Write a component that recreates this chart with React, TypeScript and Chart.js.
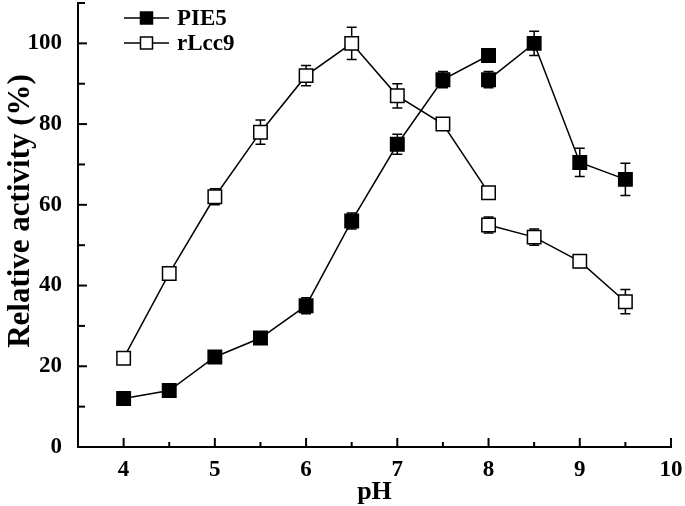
import React, { useEffect, useRef } from "react";
import { Chart, registerables } from "chart.js";
Chart.register(...registerables);

// pH values; two buffer systems overlap at pH 8 (index 8 ends the first, index 9 starts the second)
const pHValues = [4, 4.5, 5, 5.5, 6, 6.5, 7, 7.5, 8, 8, 8.5, 9, 9.5];
const breakAfterIndex = 8;
const pie5 = [12, 14, 22.3, 27, 35, 56, 75, 91, 97, 91, 100, 70.5, 66.3];
const pie5Err = [0.6, 0.6, 0.8, 0.8, 2, 2, 2.5, 2, 0.8, 2, 3, 3.5, 4];
const rlcc9 = [22, 43, 62, 78, 92, 100, 87, 80, 63, 55, 52, 46, 36];
const rlcc9Err = [0.8, 1, 2, 3, 2.5, 4, 3, 1.5, 1, 2, 2, 1.5, 3];
const seriesNames = ["PIE5", "rLcc9"];
const xTickLabels = [4, 5, 6, 7, 8, 9, 10];
const yTickLabels = [0, 20, 40, 60, 80, 100];

const FONT = "'Liberation Serif', 'Times New Roman', serif";

function buildPoints(vals: number[]) {
  const pts: { x: number; y: number | null }[] = [];
  vals.forEach((v, i) => {
    pts.push({ x: pHValues[i], y: v });
    if (i === breakAfterIndex) pts.push({ x: pHValues[i], y: null });
  });
  return pts;
}
function buildErr(errs: number[]) {
  const out: (number | null)[] = [];
  errs.forEach((e, i) => {
    out.push(e);
    if (i === breakAfterIndex) out.push(null);
  });
  return out;
}

const extrasPlugin = {
  id: "extras",
  beforeDatasetsDraw(chart: any) {
    const ctx = chart.ctx;
    const xs = chart.scales.x;
    const ys = chart.scales.y;
    ctx.save();
    ctx.strokeStyle = "#000";
    ctx.lineWidth = 1.5;
    chart.data.datasets.forEach((ds: any) => {
      ds.data.forEach((p: any, i: number) => {
        const e = ds.errors[i];
        if (p.y === null || e === null) return;
        const px = xs.getPixelForValue(p.x);
        const y1 = ys.getPixelForValue(p.y + e);
        const y2 = ys.getPixelForValue(p.y - e);
        ctx.beginPath();
        ctx.moveTo(px, y1);
        ctx.lineTo(px, y2);
        ctx.moveTo(px - 5, y1);
        ctx.lineTo(px + 5, y1);
        ctx.moveTo(px - 5, y2);
        ctx.lineTo(px + 5, y2);
        ctx.stroke();
      });
    });
    ctx.restore();
  },
  afterDraw(chart: any) {
    const ctx = chart.ctx;
    const xs = chart.scales.x;
    const ys = chart.scales.y;
    const area = chart.chartArea;
    ctx.save();
    ctx.strokeStyle = "#000";
    ctx.lineWidth = 2;
    // inward ticks
    xs.ticks.forEach((t: any) => {
      const v = t.value;
      if (v <= xs.min) return;
      const px = xs.getPixelForValue(v);
      const len = Number.isInteger(v) ? 9 : 5;
      ctx.beginPath();
      ctx.moveTo(px, area.bottom);
      ctx.lineTo(px, area.bottom - len);
      ctx.stroke();
    });
    ys.ticks.forEach((t: any) => {
      const v = t.value;
      if (v <= ys.min) return;
      const py = ys.getPixelForValue(v);
      const len = v % 20 === 0 ? 9 : 7;
      ctx.beginPath();
      ctx.moveTo(area.left, py);
      ctx.lineTo(area.left + len, py);
      ctx.stroke();
    });
    // titles
    ctx.fillStyle = "#000";
    ctx.textAlign = "center";
    ctx.textBaseline = "middle";
    ctx.font = `bold 26px ${FONT}`;
    ctx.fillText("pH", (area.left + area.right) / 2, 492);
    ctx.save();
    ctx.translate(21, 211);
    ctx.rotate(-Math.PI / 2);
    ctx.font = `bold 31px ${FONT}`;
    ctx.fillText("Relative activity (%)", 0, 0);
    ctx.restore();
    // legend
    chart.data.datasets.forEach((ds: any, i: number) => {
      const y = 18 + 25 * i;
      ctx.lineWidth = 1.5;
      ctx.strokeStyle = "#000";
      ctx.beginPath();
      ctx.moveTo(124, y);
      ctx.lineTo(169, y);
      ctx.stroke();
      const s = 12;
      ctx.fillStyle = ds.pointBackgroundColor;
      ctx.fillRect(146.5 - s / 2, y - s / 2, s, s);
      ctx.strokeRect(146.5 - s / 2, y - s / 2, s, s);
      ctx.fillStyle = "#000";
      ctx.font = `bold 23px ${FONT}`;
      ctx.textAlign = "left";
      ctx.fillText(ds.label, 177, y + 1);
    });
    ctx.restore();
  },
};

export default function App() {
  const ref = useRef<HTMLCanvasElement>(null);
  useEffect(() => {
    if (!ref.current) return;
    const chart = new Chart(ref.current, {
      type: "scatter",
      data: {
        datasets: [
          {
            label: seriesNames[0],
            data: buildPoints(pie5),
            errors: buildErr(pie5Err),
            showLine: true,
            spanGaps: false,
            borderColor: "#000",
            borderWidth: 1.5,
            pointStyle: "rect",
            pointRadius: 9.5,
            pointBackgroundColor: "#000",
            pointBorderColor: "#000",
            pointBorderWidth: 1.5,
          } as any,
          {
            label: seriesNames[1],
            data: buildPoints(rlcc9),
            errors: buildErr(rlcc9Err),
            showLine: true,
            spanGaps: false,
            borderColor: "#000",
            borderWidth: 1.5,
            pointStyle: "rect",
            pointRadius: 9.5,
            pointBackgroundColor: "#fff",
            pointBorderColor: "#000",
            pointBorderWidth: 1.5,
          } as any,
        ],
      },
      options: {
        responsive: false,
        animation: false,
        devicePixelRatio: 1,
        layout: { autoPadding: false, padding: { left: 0, top: 3, right: 14, bottom: 0 } },
        plugins: { legend: { display: false }, tooltip: { enabled: false } },
        scales: {
          x: {
            type: "linear",
            min: 3.5,
            max: 10,
            afterBuildTicks: (s: any) => {
              const t = [];
              for (let v = 3.5; v <= 10.001; v += 0.5) t.push({ value: Math.round(v * 2) / 2 });
              s.ticks = t;
            },
            afterFit: (s: any) => {
              s.height = 59;
              s.paddingLeft = 0;
              s.paddingRight = 0;
            },
            grid: { display: false },
            border: { display: true, color: "#000", width: 2 },
            ticks: {
              padding: 1,
              color: "#000",
              font: { family: FONT, size: 23, weight: "bold" },
              autoSkip: false,
              maxRotation: 0,
              callback: (v: any) => (xTickLabels.includes(Number(v)) ? String(v) : ""),
            },
          },
          y: {
            type: "linear",
            min: 0,
            max: 110,
            afterBuildTicks: (s: any) => {
              const t = [];
              for (let v = 0; v <= 110; v += 10) t.push({ value: v });
              s.ticks = t;
            },
            afterFit: (s: any) => {
              s.width = 78;
              s.paddingTop = 0;
              s.paddingBottom = 0;
            },
            grid: { display: false },
            border: { display: true, color: "#000", width: 2 },
            ticks: {
              padding: 8,
              color: "#000",
              font: { family: FONT, size: 23, weight: "bold" },
              autoSkip: false,
              callback: (v: any) => (yTickLabels.includes(Number(v)) ? String(v) : ""),
            },
          },
        },
      },
      plugins: [extrasPlugin],
    });
    return () => chart.destroy();
  }, []);
  return (
    <div style={{ position: "absolute", left: 0, top: 0, width: 685, height: 506, background: "#fff" }}>
      <canvas ref={ref} width={685} height={506} />
    </div>
  );
}
